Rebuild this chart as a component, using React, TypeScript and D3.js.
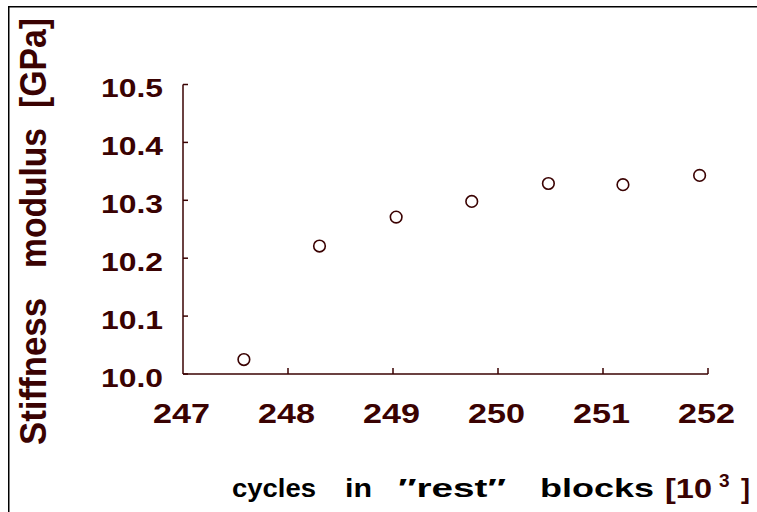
import React from "react";
import * as d3 from "d3";

const cycles = [247.58, 248.3, 249.03, 249.75, 250.48, 251.19, 251.92];
const stiffness = [10.025, 10.221, 10.271, 10.298, 10.329, 10.327, 10.343];
const xTicks = [247, 248, 249, 250, 251, 252];
const yTicks = [10.0, 10.1, 10.2, 10.3, 10.4, 10.5];
const yTitleWords = ["Stiffness", "modulus", "[GPa]"];
const xTitleWords = ["cycles", "in", "\u2033rest\u2033", "blocks"];

const MAROON = "#3a0202";
const FONT = "'Liberation Sans', Arial, Helvetica, sans-serif";

// layout of title words (start, length) along the text direction
const yTitleLayout = [
  [445, 147],
  [268, 140],
  [108, 90],
];
const xTitleLayout = [
  [232, 84],
  [345, 27],
  [398, 108],
  [540, 114],
];

export default function App() {
  const x = d3.scaleLinear().domain([247, 252]).range([183, 708]);
  const y = d3.scaleLinear().domain([10.0, 10.5]).range([374, 84.5]);

  return (
    <svg
      width={757}
      height={512}
      style={{ position: "absolute", left: 0, top: 0, background: "#fff" }}
      fontFamily={FONT}
    >
      <rect x={0} y={0} width={757} height={512} fill="#fff" />
      {/* frame */}
      <line x1={8} x2={757} y1={6.75} y2={6.75} stroke="#000" strokeWidth={1.5} />
      <line x1={8.75} x2={8.75} y1={6} y2={512} stroke="#000" strokeWidth={1.5} />

      {/* axes */}
      <line x1={x(247)} x2={x(247)} y1={y(10.5)} y2={y(10.0)} stroke={MAROON} strokeWidth={1.5} />
      <line x1={x(247)} x2={x(252)} y1={y(10.0)} y2={y(10.0)} stroke={MAROON} strokeWidth={1.5} />
      {yTicks.map((t) => (
        <g key={"yt" + t}>
          <line x1={x(247)} x2={x(247) + 5} y1={y(t)} y2={y(t)} stroke={MAROON} strokeWidth={1.5} />
          <text
            x={101}
            y={y(t) + 12.5}
            fontSize={25}
            fontWeight="bold"
            fill={MAROON}
            textLength={62}
            lengthAdjust="spacingAndGlyphs"
          >
            {t.toFixed(1)}
          </text>
        </g>
      ))}
      {xTicks.map((t) => (
        <g key={"xt" + t}>
          {t !== 247 && (
            <line x1={x(t)} x2={x(t)} y1={y(10.0)} y2={y(10.0) - 6} stroke={MAROON} strokeWidth={1.5} />
          )}
          <text
            x={x(t) - 1.5 - 28.5}
            y={423}
            fontSize={28}
            fontWeight="bold"
            fill={MAROON}
            textLength={57}
            lengthAdjust="spacingAndGlyphs"
          >
            {String(t)}
          </text>
        </g>
      ))}

      {/* points */}
      {cycles.map((c, i) => (
        <circle
          key={"p" + i}
          cx={x(c)}
          cy={y(stiffness[i])}
          r={5.8}
          fill="none"
          stroke={MAROON}
          strokeWidth={1.6}
        />
      ))}

      {/* y title */}
      {yTitleWords.map((w, i) => (
        <text
          key={"yw" + i}
          transform={`translate(46,${yTitleLayout[i][0]}) rotate(-90)`}
          fontSize={36}
          fontWeight="bold"
          fill={MAROON}
          textLength={yTitleLayout[i][1]}
          lengthAdjust="spacingAndGlyphs"
        >
          {w}
        </text>
      ))}

      {/* x title */}
      {xTitleWords.map((w, i) => (
        <text
          key={"xw" + i}
          x={xTitleLayout[i][0]}
          y={497}
          fontSize={25}
          fontWeight="bold"
          fill="#000"
          textLength={xTitleLayout[i][1]}
          lengthAdjust="spacingAndGlyphs"
        >
          {w}
        </text>
      ))}
      <text x={665} y={498} fontSize={27} fontWeight="bold" fill={MAROON} textLength={47} lengthAdjust="spacingAndGlyphs">
        {"[10"}
      </text>
      <text x={719} y={487} fontSize={19} fontWeight="bold" fill={MAROON}>
        {"3"}
      </text>
      <text x={741} y={498} fontSize={27} fontWeight="bold" fill={MAROON}>
        {"]"}
      </text>
    </svg>
  );
}
